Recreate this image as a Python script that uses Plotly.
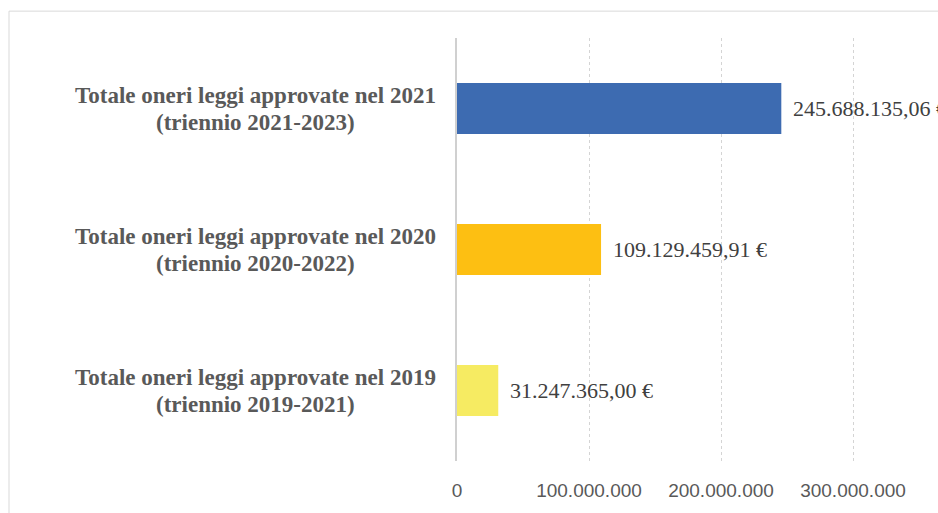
import plotly.graph_objects as go

# Data (bottom to top)
categories = [
    "Totale oneri leggi approvate nel 2019\n(triennio 2019-2021)",
    "Totale oneri leggi approvate nel 2020\n(triennio 2020-2022)",
    "Totale oneri leggi approvate nel 2021\n(triennio 2021-2023)",
]
values = [31247365.00, 109129459.91, 245688135.06]
bar_colors = ["#F6EB62", "#FDBF12", "#3D6BB1"]
tick_values = [0, 100_000_000, 200_000_000, 300_000_000]


def euro(v):
    s = f"{v:,.2f}"  # 1,234,567.89
    s = s.replace(",", "X").replace(".", ",").replace("X", ".")
    return s + " €"


def thousands(v):
    return f"{int(v):,}".replace(",", ".")


cat_ids = [c.split("\n")[0] for c in categories]

W, H = 938, 513
ML, MR, MT, MB = 457, 19, 38, 50
plot_w = W - ML - MR
plot_h = H - MT - MB

fig = go.Figure(
    go.Bar(
        x=values,
        y=cat_ids,
        orientation="h",
        marker=dict(color=bar_colors, line=dict(width=0)),
        width=0.36,
        hoverinfo="skip",
    )
)

annotations = []
# value labels beside each bar
for cid, v in zip(cat_ids, values):
    annotations.append(dict(
        x=v, y=cid, xref="x", yref="y",
        text=euro(v), showarrow=False,
        xanchor="left", yanchor="middle", xshift=10,
        font=dict(family="Liberation Serif", size=22, color="#404040"),
    ))

# category labels: two centred lines left of the axis
label_center_px = 255
line_gap = 27
for c, cid in zip(categories, cat_ids):
    for i, line in enumerate(c.split("\n")):
        annotations.append(dict(
            x=(label_center_px - ML) / plot_w, y=cid, xref="paper", yref="y",
            text=line, showarrow=False, align="center",
            xanchor="center", yanchor="middle",
            yshift=line_gap / 2 - i * line_gap,
            font=dict(family="Liberation Serif", size=23, color="#595959", weight="bold"),
        ))

fig.update_layout(
    width=W, height=H,
    margin=dict(l=ML, r=MR, t=MT, b=MB, pad=0),
    paper_bgcolor="white", plot_bgcolor="white",
    showlegend=False,
    annotations=annotations,
    shapes=[dict(
        type="rect", xref="paper", yref="paper", layer="below",
        x0=(9 - ML) / plot_w, x1=1.3,
        y0=-0.4, y1=(H - MB - 11) / plot_h,
        line=dict(color="#d9d9d9", width=1), fillcolor="rgba(0,0,0,0)",
    )],
    xaxis=dict(
        range=[0, 350_000_000],
        tickvals=tick_values,
        ticktext=[thousands(t) for t in tick_values],
        showgrid=True, gridcolor="#d4d4d4", griddash="dot", gridwidth=1,
        zeroline=False, showline=False,
        ticks="outside", ticklen=12, tickcolor="rgba(0,0,0,0)",
        tickfont=dict(family="Liberation Sans", size=19, color="#595959"),
        fixedrange=True,
    ),
    yaxis=dict(
        categoryorder="array", categoryarray=cat_ids,
        showticklabels=False, showgrid=False, zeroline=False,
        showline=True, linecolor="#d0d0d0", linewidth=1.5,
        range=[-0.5, 2.5], fixedrange=True,
    ),
)

fig.write_html("out.html")
